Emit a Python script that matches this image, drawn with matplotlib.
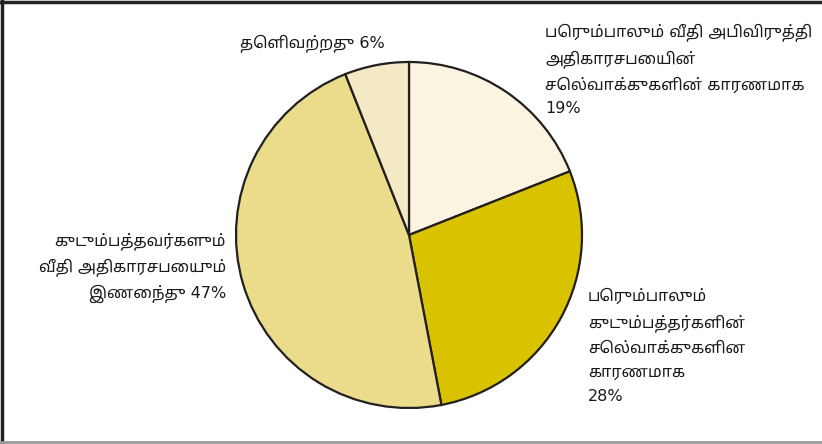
import matplotlib
matplotlib.use("Agg")
import matplotlib.pyplot as plt
from matplotlib.lines import Line2D

# slices, clockwise from 12 o'clock
labels = [
    "பெரும்பாலும் வீதி அபிவிருத்தி\nஅதிகாரசபையின்\nசெல்வாக்குகளின் காரணமாக\n19%",
    "பெரும்பாலும்\nகுடும்பத்தர்களின்\nசெல்வாக்குகளின\nகாரணமாக\n28%",
    "குடும்பத்தவர்களும்\nவீதி அதிகாரசபையும்\nஇணைந்து 47%",
    "தெளிவற்றது 6%",
]
shares = [19, 28, 47, 6]
colors = ["#FAF4E1", "#D9C300", "#EBDC8B", "#F3EAC5"]

W, H = 822, 444
cx, cy, r = 409, 235, 173

fig = plt.figure(figsize=(W / 100, H / 100), dpi=100)
ax = fig.add_axes([(cx - r) / W, (H - cy - r) / H, 2 * r / W, 2 * r / H])
ax.pie(shares, colors=colors, startangle=90, counterclock=False,
       wedgeprops=dict(edgecolor="#231F20", linewidth=1.6))
ax.set_xlim(-1, 1)
ax.set_ylim(-1, 1)
ax.axis("off")

# DejaVu first so digits/% come out larger, Tamil falls through
font = ["DejaVu Sans", "Noto Sans Tamil"]
def px(x, y):
    return x / W, 1 - y / H

kw = dict(fontsize=11.5, family=font, color="#1A1A1A")
fig.text(*px(545, 23), labels[0], ha="left", va="top", linespacing=1.68, **kw)
fig.text(*px(588, 288), labels[1], ha="left", va="top", linespacing=1.75, **kw)
fig.text(*px(226, 232), labels[2], ha="right", va="top",
         multialignment="right", linespacing=1.65, **kw)
fig.text(*px(240, 34), labels[3], ha="left", va="top", **kw)

# frame
fig.add_artist(Line2D([0, 1], [1 - 2 / H] * 2, transform=fig.transFigure,
                      color="#222222", lw=2.5))
fig.add_artist(Line2D([2 / W] * 2, [0, 1], transform=fig.transFigure,
                      color="#222222", lw=2.5))
fig.add_artist(Line2D([0, 1], [2 / H] * 2, transform=fig.transFigure,
                      color="#999999", lw=2))

fig.savefig("out.png", dpi=100)
